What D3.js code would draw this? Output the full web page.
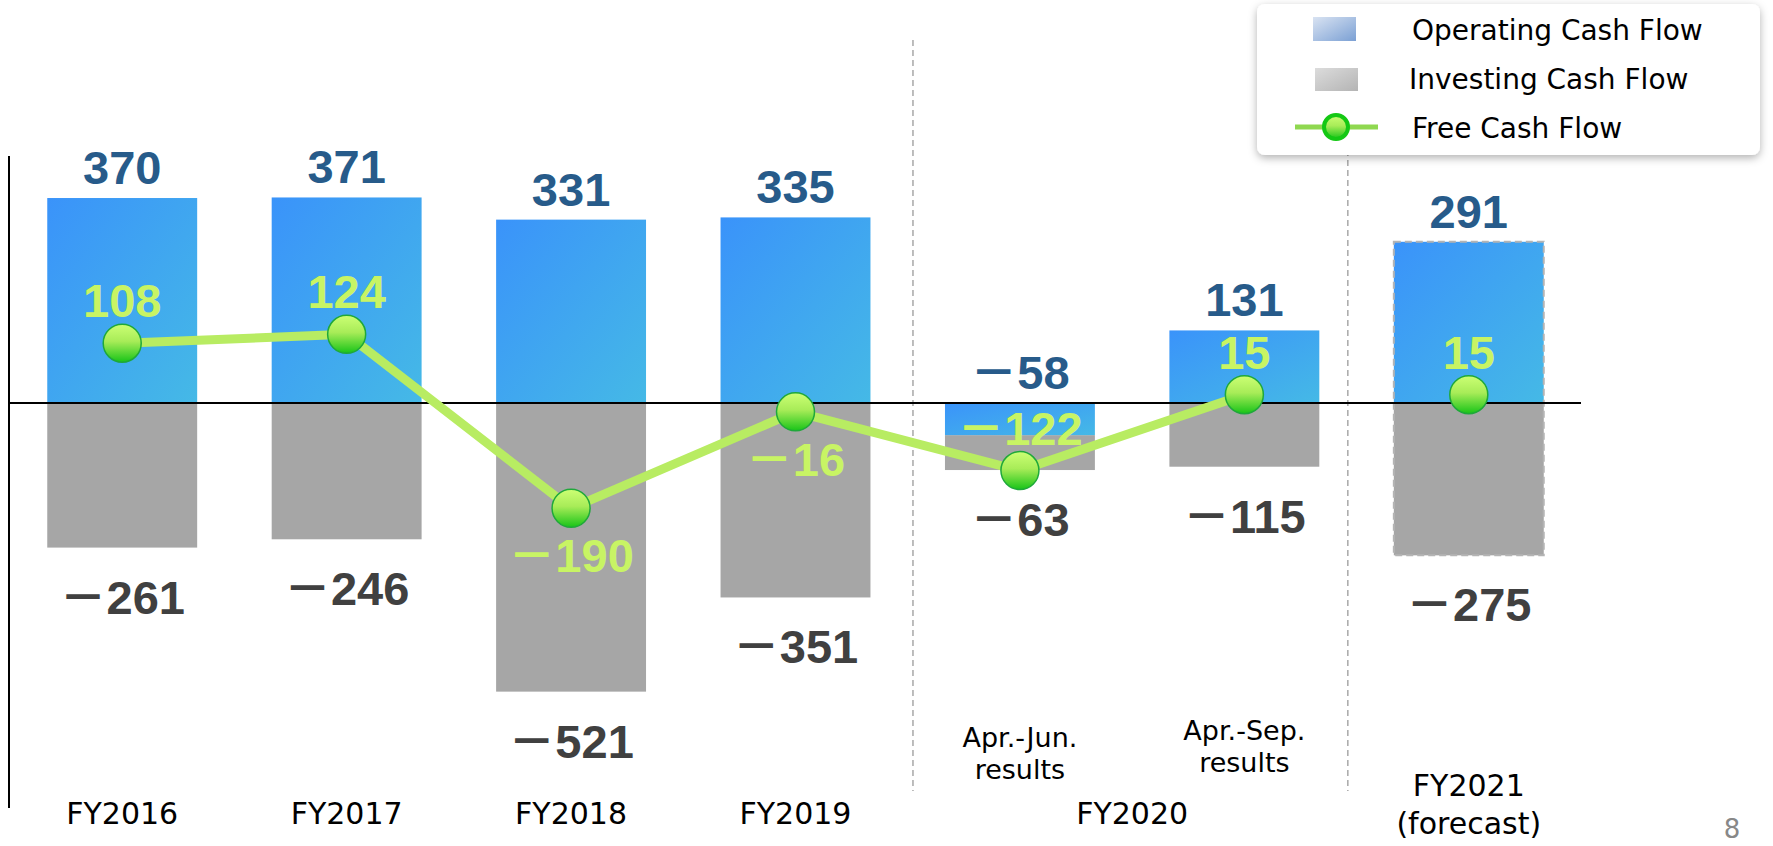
<!DOCTYPE html>
<html>
<head>
<meta charset="utf-8">
<script src="https://cdn.jsdelivr.net/npm/d3@7"></script>
<style>
  body { margin: 0; background: #fff; }
  svg { display: block; }
</style>
</head>
<body>
<div id="chart-area"></div>
<script>
// chart data
var periods = ["FY2016", "FY2017", "FY2018", "FY2019", "FY2020 Q1", "FY2020 H1", "FY2021"];
var operatingCF = [370, 371, 331, 335, -58, 131, 291];
var investingCF = [-261, -246, -521, -351, -63, -115, -275];
var freeCF = [108, 124, -190, -16, -122, 15, 15];
var tickLabels = [["FY2016"], ["FY2017"], ["FY2018"], ["FY2019"], ["Apr.-Jun.", "results"], ["Apr.-Sep.", "results"], ["FY2021", "(forecast)"]];
var groupLabel = { text: "FY2020", first: "FY2020 Q1", last: "FY2020 H1" };
var forecastPeriod = "FY2021";
var fcfLabelBelow = ["FY2018", "FY2019"];
var legendItems = ["Operating Cash Flow", "Investing Cash Flow", "Free Cash Flow"];
var pageNumber = "8";

var width = 1773, height = 846;
var minus = "\uFF0D";
function fmt(v) { return v < 0 ? minus + Math.abs(v) : String(v); }

var data = periods.map(function (p, i) {
  return { period: p, op: operatingCF[i], inv: investingCF[i], fcf: freeCF[i] };
});

var svg = d3.select("#chart-area")
  .append("svg")
  .attr("width", width)
  .attr("height", height);

var defs = svg.append("defs");

var blueGrad = defs.append("linearGradient").attr("id", "opGrad")
  .attr("x1", 0).attr("y1", 0).attr("x2", 1).attr("y2", 1);
blueGrad.append("stop").attr("offset", "0%").attr("stop-color", "#3a93fa");
blueGrad.append("stop").attr("offset", "100%").attr("stop-color", "#45b9e6");

var legBlue = defs.append("linearGradient").attr("id", "legBlue")
  .attr("x1", 0).attr("y1", 0).attr("x2", 1).attr("y2", 1);
legBlue.append("stop").attr("offset", "0%").attr("stop-color", "#d9e3f2");
legBlue.append("stop").attr("offset", "100%").attr("stop-color", "#7ba0d4");

var legGray = defs.append("linearGradient").attr("id", "legGray")
  .attr("x1", 0).attr("y1", 0).attr("x2", 1).attr("y2", 1);
legGray.append("stop").attr("offset", "0%").attr("stop-color", "#dcdcdc");
legGray.append("stop").attr("offset", "100%").attr("stop-color", "#b4b4b4");

var dotGrad = defs.append("linearGradient").attr("id", "dotGrad")
  .attr("x1", 0).attr("y1", 0).attr("x2", 0).attr("y2", 1);
dotGrad.append("stop").attr("offset", "0%").attr("stop-color", "#ccff74");
dotGrad.append("stop").attr("offset", "45%").attr("stop-color", "#a8ec58");
dotGrad.append("stop").attr("offset", "100%").attr("stop-color", "#18c418");

var shadow = defs.append("filter").attr("id", "shadow")
  .attr("x", "-10%").attr("y", "-20%").attr("width", "130%").attr("height", "150%");
shadow.append("feDropShadow").attr("dx", 0).attr("dy", 3)
  .attr("stdDeviation", 4).attr("flood-color", "#000").attr("flood-opacity", 0.3);

// scales
var x = d3.scaleBand()
  .domain(periods)
  .range([10, 1581])
  .paddingInner(0.332)
  .paddingOuter(0.166);

var y = d3.scaleLinear()
  .domain([-600, 400])
  .range([403 + 600 * 0.554, 403 - 400 * 0.554]);

var bw = x.bandwidth();
var cx = function (p) { return x(p) + bw / 2; };

// dashed separators
var separators = [x("FY2020 Q1") - 32, x("FY2021") - 46];
svg.selectAll(".sep")
  .data(separators).enter()
  .append("line")
  .attr("class", "sep")
  .attr("x1", d => d).attr("x2", d => d)
  .attr("y1", 40).attr("y2", 791)
  .attr("stroke", "#a8a8a8")
  .attr("stroke-width", 1.5)
  .attr("stroke-dasharray", "6,4");

// investing bars (stacked under operating when operating is negative)
svg.selectAll(".inv")
  .data(data).enter()
  .append("rect")
  .attr("class", "inv")
  .attr("x", d => x(d.period))
  .attr("width", bw)
  .attr("y", d => y(Math.min(0, d.op)))
  .attr("height", d => y(Math.min(0, d.op) + d.inv) - y(Math.min(0, d.op)))
  .attr("fill", "#a6a6a6");

// operating bars
svg.selectAll(".op")
  .data(data).enter()
  .append("rect")
  .attr("class", "op")
  .attr("x", d => x(d.period))
  .attr("width", bw)
  .attr("y", d => y(Math.max(0, d.op)))
  .attr("height", d => Math.abs(y(d.op) - y(0)))
  .attr("fill", "url(#opGrad)");

// forecast outline
var fc = data.filter(d => d.period === forecastPeriod)[0];
svg.append("rect")
  .attr("x", x(fc.period))
  .attr("width", bw)
  .attr("y", y(Math.max(0, fc.op)))
  .attr("height", y(Math.min(0, fc.op) + fc.inv) - y(Math.max(0, fc.op)))
  .attr("fill", "none")
  .attr("stroke", "#b4b4b4")
  .attr("stroke-width", 2)
  .attr("stroke-dasharray", "7,4");

// axes lines
svg.append("line")
  .attr("x1", 9).attr("x2", 9)
  .attr("y1", 156).attr("y2", 808)
  .attr("stroke", "#000").attr("stroke-width", 2);

svg.append("line")
  .attr("x1", x.range()[0]).attr("x2", x.range()[1])
  .attr("y1", y(0)).attr("y2", y(0))
  .attr("stroke", "#000").attr("stroke-width", 2);

// free cash flow line (results only, forecast point stands alone)
var line = d3.line()
  .x(d => cx(d.period))
  .y(d => y(d.fcf));

svg.append("path")
  .datum(data.filter(d => d.period !== forecastPeriod))
  .attr("d", line)
  .attr("fill", "none")
  .attr("stroke", "#b8ec62")
  .attr("stroke-width", 9)
  .attr("stroke-linejoin", "round");

svg.selectAll(".dot")
  .data(data).enter()
  .append("circle")
  .attr("class", "dot")
  .attr("cx", d => cx(d.period))
  .attr("cy", d => y(d.fcf))
  .attr("r", 19)
  .attr("fill", "url(#dotGrad)")
  .attr("stroke", "#1fa83a")
  .attr("stroke-width", 1.5);

// value labels
var valueFont = "'Liberation Sans', Arial, 'Noto Sans CJK JP', sans-serif";

svg.selectAll(".op-label")
  .data(data).enter()
  .append("text")
  .attr("class", "op-label")
  .attr("x", d => cx(d.period))
  .attr("y", d => y(Math.max(0, d.op)) - 14)
  .attr("text-anchor", "middle")
  .attr("font-family", valueFont)
  .attr("font-weight", "bold")
  .attr("font-size", "47px")
  .attr("fill", "#275b8a")
  .text(d => fmt(d.op));

svg.selectAll(".inv-label")
  .data(data).enter()
  .append("text")
  .attr("class", "inv-label")
  .attr("x", d => cx(d.period))
  .attr("y", d => y(Math.min(0, d.op) + d.inv) + 66)
  .attr("text-anchor", "middle")
  .attr("font-family", valueFont)
  .attr("font-weight", "bold")
  .attr("font-size", "47px")
  .attr("fill", "#404040")
  .text(d => fmt(d.inv));

svg.selectAll(".fcf-label")
  .data(data).enter()
  .append("text")
  .attr("class", "fcf-label")
  .attr("x", d => cx(d.period))
  .attr("y", d => fcfLabelBelow.indexOf(d.period) >= 0 ? y(d.fcf) + 64 : y(d.fcf) - 26)
  .attr("text-anchor", "middle")
  .attr("font-family", valueFont)
  .attr("font-weight", "bold")
  .attr("font-size", "47px")
  .attr("fill", "#c8f464")
  .text(d => fmt(d.fcf));

// category labels
var tickFont = "'DejaVu Sans', Verdana, sans-serif";
var ticks = svg.selectAll(".tick-label")
  .data(periods).enter()
  .append("text")
  .attr("class", "tick-label")
  .attr("text-anchor", "middle")
  .attr("font-family", tickFont)
  .attr("fill", "#000");

ticks.each(function (p, i) {
  var lines = tickLabels[i];
  var t = d3.select(this);
  var baseY, size, gap;
  if (lines.length === 1) { baseY = 824; size = 30; gap = 0; }
  else if (p === forecastPeriod) { baseY = 796; size = 30; gap = 38; }
  else { baseY = p === "FY2020 H1" ? 740 : 747; size = 27; gap = 32; }
  t.attr("font-size", size + "px");
  lines.forEach(function (s, j) {
    t.append("tspan")
      .attr("x", cx(p))
      .attr("y", baseY + j * gap)
      .text(s);
  });
});

svg.append("text")
  .attr("x", (cx(groupLabel.first) + cx(groupLabel.last)) / 2)
  .attr("y", 824)
  .attr("text-anchor", "middle")
  .attr("font-family", tickFont)
  .attr("font-size", "30px")
  .attr("fill", "#000")
  .text(groupLabel.text);

svg.append("text")
  .attr("x", 1732)
  .attr("y", 838)
  .attr("text-anchor", "middle")
  .attr("font-family", tickFont)
  .attr("font-size", "26px")
  .attr("fill", "#888")
  .text(pageNumber);

// legend
var legend = svg.append("g").attr("class", "legend");
legend.append("rect")
  .attr("x", 1257).attr("y", 4)
  .attr("width", 503).attr("height", 151)
  .attr("rx", 8)
  .attr("fill", "#fff")
  .attr("filter", "url(#shadow)");

legend.append("rect")
  .attr("x", 1313).attr("y", 17).attr("width", 43).attr("height", 24)
  .attr("fill", "url(#legBlue)");
legend.append("rect")
  .attr("x", 1315).attr("y", 68).attr("width", 43).attr("height", 23)
  .attr("fill", "url(#legGray)");
legend.append("line")
  .attr("x1", 1295).attr("x2", 1378)
  .attr("y1", 127).attr("y2", 127)
  .attr("stroke", "#8fd850").attr("stroke-width", 5);
legend.append("circle")
  .attr("cx", 1336).attr("cy", 127).attr("r", 12)
  .attr("fill", "url(#dotGrad)")
  .attr("stroke", "#14c814").attr("stroke-width", 4);

legend.selectAll(".legend-text")
  .data(legendItems).enter()
  .append("text")
  .attr("class", "legend-text")
  .attr("x", (d, i) => i === 1 ? 1409 : 1412)
  .attr("y", (d, i) => 40 + i * 49)
  .attr("font-family", tickFont)
  .attr("font-size", "28px")
  .attr("fill", "#000")
  .text(d => d);
</script>
</body>
</html>
